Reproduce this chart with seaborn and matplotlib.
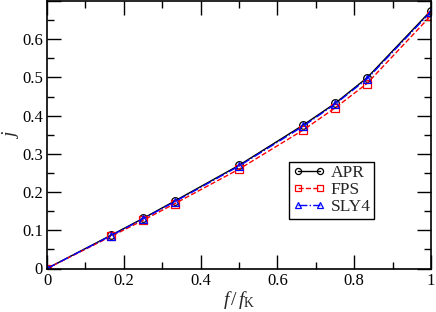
import numpy as np
import pandas as pd
import matplotlib
matplotlib.use("Agg")
import matplotlib.pyplot as plt
import seaborn as sns
from matplotlib.ticker import MultipleLocator, FuncFormatter

# f / f_K values and angular momentum j for each EOS
ratio = [0, 1/6, 0.25, 1/3, 0.5, 2/3, 0.75, 5/6, 1.0]
apr = [0, 0.087, 0.131, 0.177, 0.270, 0.375, 0.432, 0.499, 0.675]
fps = [0, 0.084, 0.126, 0.170, 0.260, 0.362, 0.420, 0.484, 0.662]
sly4 = [0, 0.086, 0.130, 0.175, 0.268, 0.372, 0.430, 0.496, 0.672]

sns.set_style("ticks")
plt.rcParams['font.family'] = ['Liberation Serif', 'DejaVu Serif']
plt.rcParams['mathtext.fontset'] = 'custom'
plt.rcParams['mathtext.rm'] = 'Liberation Serif'
plt.rcParams['mathtext.it'] = 'Liberation Serif:italic'

fig = plt.figure(figsize=(4.36, 3.12), dpi=100)
ax = fig.add_axes([47/436, 43.5/312, 384/436, 267.5/312])

styles = [
    ("APR", apr, "black", "-", "o"),
    ("FPS", fps, "red", "--", "s"),
    ("SLY4", sly4, "blue", "-.", "^"),
]
for name, vals, col, ls, mk in styles:
    sns.lineplot(x=ratio, y=vals, ax=ax, color=col, linestyle=ls, marker=mk,
                 markersize=5.5, markerfacecolor="none", markeredgecolor=col,
                 markeredgewidth=0.9, linewidth=1.0, label=name)


def fmt(v, pos):
    if abs(v) < 1e-9:
        return "0"
    if abs(v - round(v)) < 1e-9:
        return str(int(round(v)))
    return "%.1f" % v


ax.set_xlim(0, 1)
ax.set_ylim(0, 0.7)
ax.xaxis.set_major_locator(MultipleLocator(0.2))
ax.xaxis.set_minor_locator(MultipleLocator(0.1))
ax.yaxis.set_major_locator(MultipleLocator(0.1))
ax.yaxis.set_minor_locator(MultipleLocator(0.05))
ax.xaxis.set_major_formatter(FuncFormatter(fmt))
ax.yaxis.set_major_formatter(FuncFormatter(lambda v, p: "" if v > 0.65 else fmt(v, p)))
ax.tick_params(which="both", direction="in", top=True, right=True, width=1,
               labelsize=12, pad=3, colors="black")
ax.tick_params(which="major", length=10)
ax.tick_params(which="minor", length=5)
for sp in ax.spines.values():
    sp.set_linewidth(1.2)
    sp.set_color("black")

ax.set_xlabel(r"$f\,/\,f_{\rm K}$", fontsize=14, labelpad=0)
ax.set_ylabel(r"$j$", fontsize=14, labelpad=1)

leg = ax.legend(loc="upper left", bbox_to_anchor=(0.63, 0.40), fontsize=12.5,
                frameon=True, fancybox=False, framealpha=1, edgecolor="black",
                handlelength=1.9, handletextpad=0.3, borderpad=0.2,
                labelspacing=0.05, borderaxespad=0, numpoints=2,
                markerscale=0.8)
leg.get_frame().set_linewidth(1.0)

fig.savefig("out.png", dpi=100)
